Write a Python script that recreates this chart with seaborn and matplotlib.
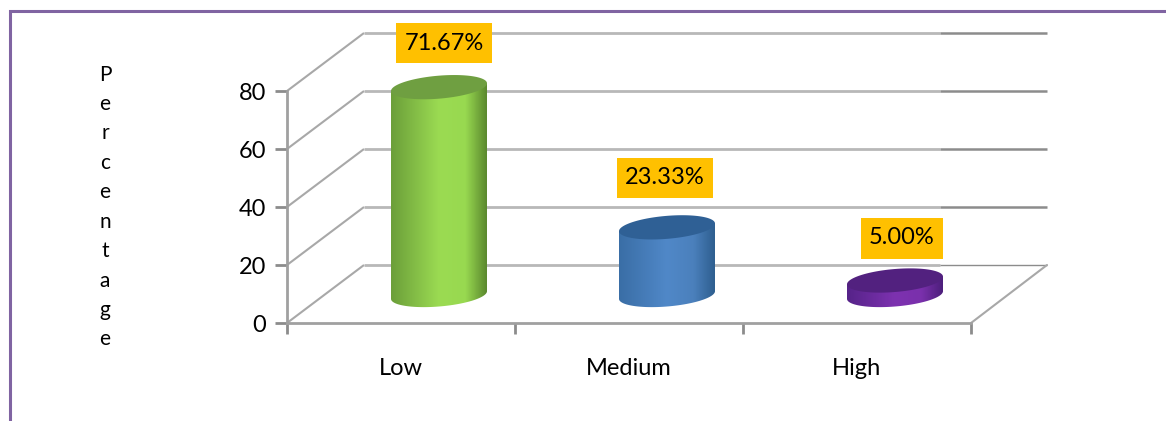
import matplotlib
matplotlib.use("Agg")
import matplotlib.pyplot as plt
import numpy as np
import seaborn as sns
from matplotlib.colors import LinearSegmentedColormap
from matplotlib.patches import Polygon, Rectangle

categories = ["Low", "Medium", "High"]
values = [71.67, 23.33, 5.00]
value_labels = ["71.67%", "23.33%", "5.00%"]
y_ticks = [0, 20, 40, 60, 80]
axis_title = "Percentage"

top_colors = ["#6f9f41", "#2f6095", "#52217f"]
side_colors = [
    ["#6c9f3a", "#9bdb52", "#98d950", "#5c8a2f"],
    ["#3a6ea6", "#5088c8", "#4b80bc", "#2f5f90"],
    ["#562389", "#7d32b0", "#7a30ac", "#4d1f7c"],
]

W, H = 1166, 421
DX, DY = 38, -28  # bars sit half way into the fake 3d floor

sns.set_style("white")
plt.rcParams["font.family"] = ["Lato", "DejaVu Sans"]

fig = plt.figure(figsize=(W / 100, H / 100), dpi=100)
ax = fig.add_axes([287 / W, (H - 323) / H, 684 / W, 232 / H])

sns.barplot(x=categories, y=values, hue=categories, palette=[c[1] for c in side_colors],
            width=96 / 228, legend=False, ax=ax)
ax.set_xlim(-0.5, 2.5)
ax.set_ylim(0, 80)
ax.set_yticks(y_ticks)
ax.set_xticks([-0.5, 0.5, 1.5, 2.5], labels=[])
ax.set_xticks([0, 1, 2], labels=categories, minor=True)
ax.tick_params(axis="y", left=True, length=9, width=2, color="#8c8c8c", labelsize=17, pad=6, labelcolor="black")
ax.tick_params(axis="x", which="major", bottom=True, length=8, width=2, color="#8c8c8c")
ax.tick_params(axis="x", which="minor", bottom=False, length=0, labelsize=17, pad=25, labelcolor="black")
sns.despine(ax=ax)
for side in ["left", "bottom"]:
    ax.spines[side].set_color("#a0a0a0")
    ax.spines[side].set_linewidth(2)
ax.patch.set_alpha(0)


def to_px(x, y):
    px, py = ax.transData.transform((x, y))
    return px, H - py


# overlay in image pixels for the fake 3d parts
over = fig.add_axes([0, 0, 1, 1], zorder=-1)
over.set_xlim(0, W)
over.set_ylim(H, 0)
over.axis("off")

x0, y_base = to_px(-0.5, 0)
x1, _ = to_px(2.5, 0)
for tick in y_ticks:
    _, yy = to_px(0, tick)
    over.plot([x0, x0 + 77], [yy, yy - 58], color="#a8a8a8", lw=1.5, solid_capstyle="butt")
    back_y = yy - 58
    over.plot([x0 + 77, 940], [back_y, back_y], color="#b8b8b8", lw=2, solid_capstyle="butt")
    over.plot([940, x1 + 76], [back_y, back_y], color="#8c8c8c", lw=1.8 if tick else 1.0, solid_capstyle="butt")
over.plot([x1, x1 + 76], [y_base, y_base - 58], color="#a8a8a8", lw=1.5)

# front layer: bars and labels
front = fig.add_axes([0, 0, 1, 1], zorder=5)
front.set_xlim(0, W)
front.set_ylim(H, 0)
front.axis("off")

t = np.linspace(0, 2 * np.pi, 200)


def ellipse(cx, cy, a=48, b=11.5, tilt=0.08):
    return cx + a * np.cos(t), cy + b * np.sin(t) - tilt * a * np.cos(t)


label_shift = [(5, 0), (-2, 0), (7, 0)]
label_boxes = [(96, 40), (96, 40), (82, 41)]
label_y = [43, 178, 238]

for i, bar in enumerate(ax.patches[:len(values)]):
    left, yb = to_px(bar.get_x(), 0)
    right, yt = to_px(bar.get_x() + bar.get_width(), bar.get_height())
    bar.set_visible(False)
    cx = (left + right) / 2 + DX
    a = (right - left) / 2
    yb += DY
    yt += DY

    lower = t[:100]
    low_x = cx + a * np.cos(lower)
    low_y = yb + 11.5 * np.sin(lower) - 0.08 * a * np.cos(lower)
    body = np.column_stack([
        np.r_[cx + a, low_x, cx - a],
        np.r_[yt - 0.08 * a, low_y, yt + 0.08 * a],
    ])
    clip = Polygon(body, closed=True, transform=front.transData, fc="none", ec="none")
    front.add_patch(clip)
    cmap = LinearSegmentedColormap.from_list(
        "side", list(zip([0, 0.5, 0.78, 1], side_colors[i])))
    grad = np.linspace(0, 1, 96).reshape(1, -1)
    im = front.imshow(grad, cmap=cmap, extent=(cx - a, cx + a, yb + 15, yt - 15), aspect="auto", zorder=2)
    im.set_clip_path(clip)

    tx, ty = ellipse(cx, yt, a=a)
    front.fill(tx, ty, color=top_colors[i], zorder=3, lw=0)

    box_w, box_h = label_boxes[i]
    lx = cx + label_shift[i][0]
    ly = label_y[i]
    front.add_patch(Rectangle((lx - box_w / 2, ly - box_h / 2), box_w, box_h, fc="#ffc000", ec="none", zorder=4))
    front.text(lx, ly, value_labels[i], ha="center", va="center", fontsize=17, color="black", zorder=5)

front.set_xlim(0, W)
front.set_ylim(H, 0)

# purple frame around the picture
front.plot([10, 10, W], [H, 11, 11], color="#8064a2", lw=2.2, solid_joinstyle="miter")

front.text(105, 207, "\n".join(axis_title), ha="center", va="center", fontsize=15,
           linespacing=1.59, color="black")

fig.savefig("out.png", dpi=100)
